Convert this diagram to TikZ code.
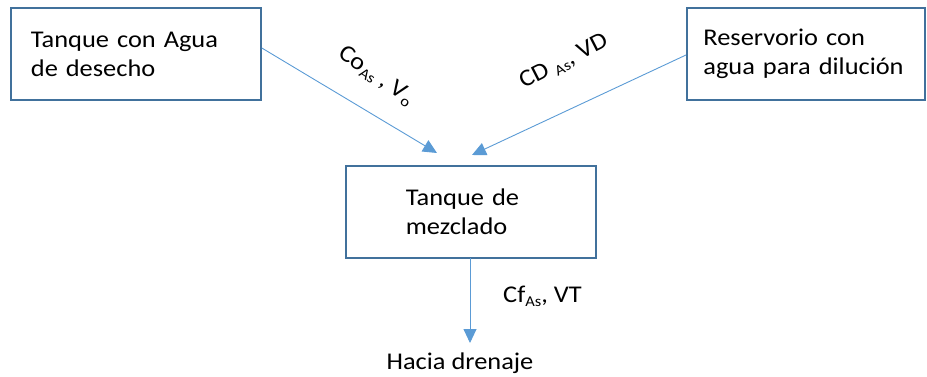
\documentclass[tikz,border=0pt]{standalone}
\usepackage{fontspec}
\setmainfont{Carlito}[FakeStretch=1.1]
\usepackage{tikz}
\usetikzlibrary{positioning,arrows.meta}
\definecolor{BOX_BORDER}{HTML}{41719C}
\definecolor{FLOW_COLOR}{HTML}{5B9BD5}
\newcommand\lowtxt[1]{\raisebox{-4pt}{\fontsize{15}{15}\selectfont #1}}
\tikzstyle{tank} = [rectangle, draw=BOX_BORDER, line width=1.8pt, minimum height=92pt, align=left, anchor=west, font=\fontsize{24}{29}\selectfont]
\tikzstyle{flow} = [draw=FLOW_COLOR, line width=0.9pt, -{Triangle[length=14pt,width=13pt]}]
\tikzstyle{tag}  = [font=\fontsize{24}{28}\selectfont, inner sep=0pt]

\begin{document}
\begin{tikzpicture}[x=1pt, y=-1pt]
      \useasboundingbox (0,0) rectangle (927,377);

      %%%%%%%%%%%%%%%%%%%%%%%%%%%%%%%%%%%%%%%%%%%%%%%%%
      % TANKS
      %%%%%%%%%%%%%%%%%%%%%%%%%%%%%%%%%%%%%%%%%%%%%%%%%
      \node[tank, minimum width=250pt, text width=210pt, inner xsep=20pt] (TQ) at (10,54)  {Tanque con Agua\\de desecho};
      \node[tank, minimum width=238pt, text width=205pt, inner xsep=16pt] (RS) at (686,54) {Reservorio con\\agua para diluci\'on};
      \node[tank, minimum width=250pt, text width=130pt, inner xsep=60pt] (MZ) at (345,212) {Tanque de\\mezclado};

      \node[tag] (DR) at (460,363) {Hacia drenaje};

      %%%%%%%%%%%%%%%%%%%%%%%%%%%%%%%%%%%%%%%%%%%%%%%%%
      % FLOWS
      %%%%%%%%%%%%%%%%%%%%%%%%%%%%%%%%%%%%%%%%%%%%%%%%%
      \coordinate (in1) at (437,153);
      \coordinate (in2) at (472,155);
      \coordinate (out) at (470,258);
      \coordinate (end) at (470,343);

      \draw[flow] ([yshift=6pt]TQ.east) -- (in1);
      \draw[flow] ([yshift=-1pt]RS.west) -- (in2);
      \draw[flow] (out) -- (end);

      % labels
      \node[tag, rotate=-34] (L1) at (376,76) {Co\lowtxt{As} , V\lowtxt{o}};
      \node[tag, rotate=27]  (L2) at (564,62) {CD \lowtxt{As}, VD};
      \node[tag, anchor=west] (L3) at (503,296) {Cf\lowtxt{As}, VT};
\end{tikzpicture}
\end{document}
